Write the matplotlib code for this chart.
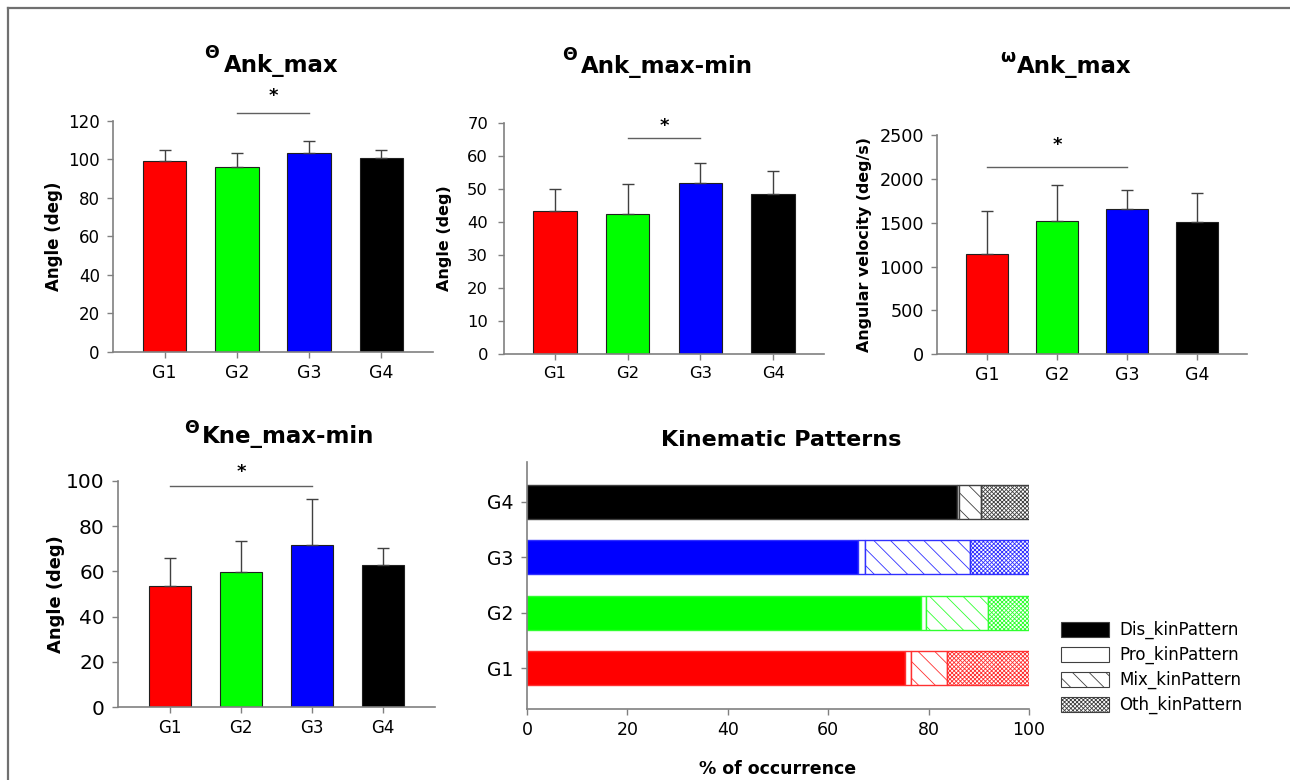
import matplotlib
matplotlib.use("Agg")
import numpy as np
import matplotlib.pyplot as plt
from matplotlib.patches import Patch
from matplotlib.lines import Line2D

# ---------------- data ----------------
groups = ["G1", "G2", "G3", "G4"]
group_colors = ["#ff0000", "#00ff00", "#0000ff", "#000000"]
edge_colors = ["#ff3030", "#30ff30", "#3030ff", "#404040"]

ank_max = [99.3, 96.2, 103.5, 101.0]
ank_max_sd = [5.6, 7.1, 5.9, 3.9]

ank_range = [43.2, 42.3, 51.8, 48.5]
ank_range_sd = [6.7, 9.2, 5.9, 7.0]

ank_vel = [1147, 1523, 1653, 1512]
ank_vel_sd = [483, 407, 217, 325]

kne_range = [53.5, 59.8, 71.7, 62.9]
kne_range_sd = [12.2, 13.7, 20.2, 7.2]

# significance: (group i, group j, line height, star height)
sig_ank_max = (1, 2, 124.0, 133.0)
sig_ank_range = (1, 2, 65.5, 69.0)
sig_ank_vel = (0, 2, 2135, 2390)
sig_kne_range = (0, 2, 97.6, 104.0)

pattern_labels = ["Dis_kinPattern", "Pro_kinPattern", "Mix_kinPattern", "Oth_kinPattern"]
dis_pct = [75.3, 78.5, 65.9, 85.7]
pro_pct = [1.2, 1.0, 1.4, 0.3]
mix_pct = [7.2, 12.4, 21.0, 4.5]
oth_pct = [16.3, 8.1, 11.7, 9.5]

# ---------------- figure ----------------
W, H = 1290, 780
fig = plt.figure(figsize=(W / 100, H / 100), dpi=100)
plt.rcParams["hatch.linewidth"] = 0.6

AXIS_GRAY = "#808080"
MIX_HATCH = "\\\\"
OTH_HATCH = "xxxxxxxx"


def rect(l, t, r, b):
    return [l / W, 1 - b / H, (r - l) / W, (b - t) / H]


def fx(x):
    return x / W


def fy(y):
    return 1 - y / H


def style_axes(ax, ytick_fs, xtick_fs, ypad=5):
    for s in ["top", "right"]:
        ax.spines[s].set_visible(False)
    for s in ["left", "bottom"]:
        ax.spines[s].set_color(AXIS_GRAY)
        ax.spines[s].set_linewidth(1.2)
    ax.tick_params(axis="both", colors=AXIS_GRAY, length=4.5, width=1.0,
                   direction="out")
    ax.tick_params(axis="y", labelsize=ytick_fs, labelcolor="black", pad=ypad)
    ax.tick_params(axis="x", labelsize=xtick_fs, labelcolor="black", pad=4)


def bar_panel(box, vals, sds, ylim, yticks, pad, ylabel, ylabel_fs, ylabel_x,
              ytick_fs, xtick_fs, sig, ypad=5):
    ax = fig.add_axes(rect(*box))
    x = np.arange(len(groups))
    ax.bar(x, vals, width=0.6, color=group_colors, edgecolor="#202020",
           linewidth=0.8, zorder=2)
    ax.errorbar(x, vals, yerr=[np.zeros(len(vals)), sds], fmt="none",
                ecolor="#404040", elinewidth=1.0, capsize=4, capthick=1.0,
                zorder=3)
    ax.set_xlim(-pad, len(groups) - 1 + pad)
    ax.set_ylim(*ylim)
    ax.set_yticks(yticks)
    ax.set_xticks(x, groups)
    style_axes(ax, ytick_fs, xtick_fs, ypad)
    ax.set_ylabel(ylabel, fontsize=ylabel_fs, fontweight="bold")
    ax.yaxis.set_label_coords(ylabel_x, 0.5)
    i, j, h, sh = sig
    ax.plot([i, j], [h, h], color="#606060", lw=1.0, clip_on=False)
    ax.text((i + j) / 2, sh, "*", ha="center", va="center", fontsize=13,
            fontweight="bold", clip_on=False)
    return ax


bar_panel((113, 121, 433, 352), ank_max, ank_max_sd, (0, 120),
          np.arange(0, 121, 20), 0.715, "Angle (deg)", 12, -0.156, 12, 12.5,
          sig_ank_max)
bar_panel((504, 122.7, 824, 354), ank_range, ank_range_sd, (0, 70),
          np.arange(0, 71, 10), 0.70, "Angle (deg)", 11.5, -0.163, 11.8, 11.8,
          sig_ank_range, ypad=7)
bar_panel((937, 135, 1247, 354.3), ank_vel, ank_vel_sd, (0, 2500),
          np.arange(0, 2501, 500), 0.71, "Angular velocity (deg/s)", 11.4,
          -0.21, 12.7, 12.5, sig_ank_vel)
bar_panel((118, 480.7, 435, 707.3), kne_range, kne_range_sd, (0, 100),
          np.arange(0, 101, 20), 0.73, "Angle (deg)", 12.9, -0.167, 14.5, 12,
          sig_kne_range)

# ---------------- stacked horizontal bars ----------------
ax5 = fig.add_axes(rect(527, 462, 1029, 709.3))
y = np.arange(len(groups))
series = [np.array(dis_pct), np.array(pro_pct), np.array(mix_pct), np.array(oth_pct)]
left = np.zeros(len(groups))
styles = [
    dict(color=group_colors, hatch=None),
    dict(color=["white"] * 4, hatch=None),
    dict(color=["white"] * 4, hatch=MIX_HATCH),
    dict(color=["white"] * 4, hatch=OTH_HATCH),
]
for vals, st in zip(series, styles):
    ax5.barh(y, vals, left=left, height=0.61, color=st["color"],
             edgecolor=edge_colors, linewidth=1.0, hatch=st["hatch"], zorder=2)
    left = left + vals
ax5.set_xlim(0, 100)
ax5.set_ylim(-0.74, 3.72)
ax5.set_yticks(y, groups)
ax5.set_xticks(np.arange(0, 101, 20))
style_axes(ax5, 13.5, 12.5, ypad=5)
ax5.set_xlabel("% of occurrence", fontsize=12.5, fontweight="bold")
ax5.xaxis.set_label_coords(0.5, (709.3 - 760) / (709.3 - 462))

# legend
handles = [
    Patch(facecolor="black", edgecolor="#404040", linewidth=0.8),
    Patch(facecolor="white", edgecolor="#404040", linewidth=0.8),
    Patch(facecolor="white", edgecolor="#404040", linewidth=0.8, hatch=MIX_HATCH),
    Patch(facecolor="white", edgecolor="#404040", linewidth=0.8, hatch=OTH_HATCH),
]
fig.legend(handles, pattern_labels, loc="upper left",
           bbox_to_anchor=(fx(1061), fy(621)), frameon=False, fontsize=12,
           handlelength=2.9, handleheight=1.0, handletextpad=0.6,
           labelspacing=0.4, borderpad=0, borderaxespad=0)

# ---------------- titles ----------------
def title(sym, sym_x, sym_base, text, text_x, text_base):
    fig.text(fx(sym_x), fy(sym_base), sym, fontsize=12.5, fontweight="bold",
             ha="left", va="baseline")
    fig.text(fx(text_x), fy(text_base), text, fontsize=16.5, fontweight="bold",
             ha="left", va="baseline")


title("\u0398", 204, 58, "Ank_max", 224, 71.7)
title("\u0398", 562, 60, "Ank_max-min", 580.5, 73.3)
title("\u03c9", 1000, 62, "Ank_max", 1017, 73.3)
title("\u0398", 184, 433, "Kne_max-min", 202, 443.3)
fig.text(fx(781), fy(446), "Kinematic Patterns", fontsize=16, fontweight="bold",
         ha="center", va="baseline")

# frame lines (top and left)
fig.add_artist(Line2D([fx(7.5), 1], [fy(7.5), fy(7.5)], transform=fig.transFigure,
                      color="#707070", lw=1.6))
fig.add_artist(Line2D([fx(7.5), fx(7.5)], [0, fy(7.5)], transform=fig.transFigure,
                      color="#707070", lw=1.6))

fig.savefig("out.png", dpi=100)
